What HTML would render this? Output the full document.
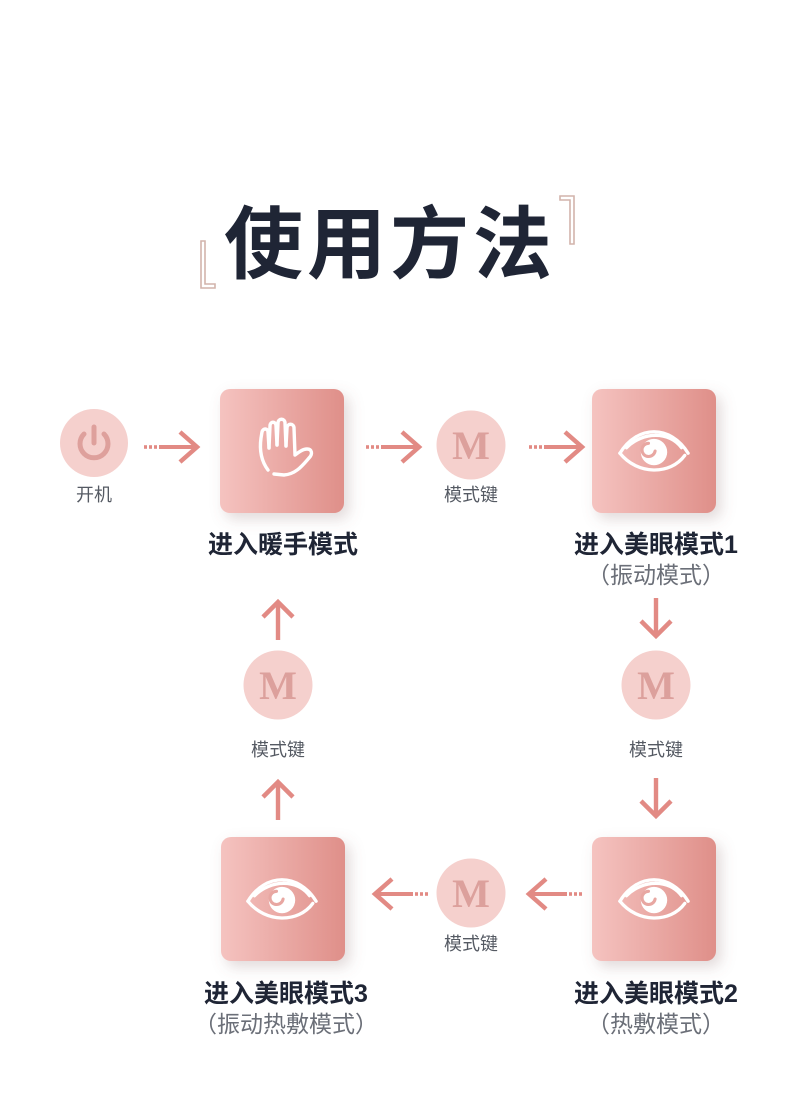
<!DOCTYPE html>
<html><head><meta charset="utf-8"><style>
html,body{margin:0;padding:0;background:#fff;}
svg text{font-family:"Liberation Sans","Noto Sans CJK SC",sans-serif;}
</style></head><body>
<svg width="790" height="1104" viewBox="0 0 790 1104" xmlns="http://www.w3.org/2000/svg">
<defs>
<linearGradient id="g" x1="0" y1="0" x2="1" y2="0">
<stop offset="0" stop-color="#f5c3c0"/><stop offset="1" stop-color="#df8f89"/>
</linearGradient>
<filter id="sh" x="-30%" y="-30%" width="170%" height="170%">
<feDropShadow dx="5" dy="6" stdDeviation="7" flood-color="#8a6a6a" flood-opacity="0.25"/>
</filter>
<g id="eye" fill="none" stroke="#fff" stroke-width="3" stroke-linecap="round" stroke-linejoin="round">
<path d="M-31,2 C-15,-24 15,-24 31,2"/>
<path d="M-25,-3 C-10,-18 14,-18 25,-3"/>
<path d="M-31,2 C-15,22 15,22 28,4"/>
<circle cx="0" cy="1" r="12" fill="#fff" stroke="none"/>
<path d="M-5,-7 a6,6 0 1 0 6,7" stroke="#e8a7a2" stroke-width="2.8"/>
</g>
<g id="M">
<circle r="34.5" fill="#f5d0cd"/>
<text y="14" text-anchor="middle" font-weight="bold" font-size="40" fill="#dca09c" style="font-family:'Liberation Serif',serif">M</text>
</g>
<g id="ar" fill="#e28a84">
<rect x="0" y="-1.8" width="3" height="3.6"/><rect x="5" y="-1.8" width="3" height="3.6"/><rect x="10" y="-1.8" width="3" height="3.6"/>
<rect x="15" y="-2" width="35" height="4"/>
<path d="M36,-15 L53,0 L36,15" fill="none" stroke="#e28a84" stroke-width="4.5"/>
</g>
<g id="va" fill="#e28a84">
<rect x="-2.2" y="-18" width="4.4" height="38"/>
<path d="M-15,-3 L0,-18 L15,-3" fill="none" stroke="#e28a84" stroke-width="4.5"/>
</g>
</defs>

<!-- title -->
<path d="M201,241 h4 v43 h10 v4 h-14 z" fill="none" stroke="#d2b4ac" stroke-width="1.6"/>
<path d="M560,196 h14 v48 h-4 v-44 h-10 z" fill="none" stroke="#d2b4ac" stroke-width="1.6"/>
<text x="390" y="272" text-anchor="middle" font-size="79" font-weight="bold" fill="#1f2535" letter-spacing="4">使用方法</text>

<!-- power -->
<circle cx="94" cy="443" r="34" fill="#f5d0cd"/>
<path d="M84,434 A14,14 0 1 0 104,434" fill="none" stroke="#dea09c" stroke-width="5" stroke-linecap="round"/>
<line x1="94" y1="427" x2="94" y2="443" stroke="#dea09c" stroke-width="5" stroke-linecap="round"/>
<text x="94" y="501" text-anchor="middle" font-size="18" fill="#555a63">开机</text>

<use href="#ar" x="144" y="447"/>
<use href="#ar" x="366" y="447"/>
<use href="#ar" x="529" y="447"/>
<use href="#ar" transform="translate(428,894) scale(-1,1)"/>
<use href="#ar" transform="translate(582,894) scale(-1,1)"/>

<!-- boxes -->
<rect x="220" y="389" width="124" height="124" rx="10" fill="url(#g)" filter="url(#sh)"/>
<rect x="592" y="389" width="124" height="124" rx="10" fill="url(#g)" filter="url(#sh)"/>
<rect x="221" y="837" width="124" height="124" rx="10" fill="url(#g)" filter="url(#sh)"/>
<rect x="592" y="837" width="124" height="124" rx="10" fill="url(#g)" filter="url(#sh)"/>

<!-- hand -->
<g fill="none" stroke="#fff" stroke-width="3.4" stroke-linecap="round" stroke-linejoin="round">
<path d="M268,470 C262,462 259,452 261,438 L262,432 C263,428 268,428 268,432 L269,448"/>
<path d="M269,448 L270,426 C270,421 276,421 276,426 L277,445"/>
<path d="M277,445 L278,423 C278,418 285,418 285,423 L286,446"/>
<path d="M286,446 L287,428 C287,423 294,423 294,428 L295,455 C299,452 303,449 307,449 C312,449 313,454 309,458 C302,466 296,474 284,475 L274,474"/>
</g>

<use href="#eye" transform="translate(654,451) scale(1.1)"/>
<use href="#eye" transform="translate(282,899) scale(1.1)"/>
<use href="#eye" transform="translate(654,899) scale(1.1)"/>

<use href="#M" x="471" y="445"/>
<use href="#M" x="278" y="685"/>
<use href="#M" x="656" y="685"/>
<use href="#M" x="471" y="893"/>

<text x="471" y="501" text-anchor="middle" font-size="18" fill="#555a63">模式键</text>
<text x="278" y="756" text-anchor="middle" font-size="18" fill="#555a63">模式键</text>
<text x="656" y="756" text-anchor="middle" font-size="18" fill="#555a63">模式键</text>
<text x="471" y="950" text-anchor="middle" font-size="18" fill="#555a63">模式键</text>

<use href="#va" x="278" y="620"/>
<use href="#va" x="278" y="800"/>
<use href="#va" transform="translate(656,618) scale(1,-1)"/>
<use href="#va" transform="translate(656,798) scale(1,-1)"/>

<g font-size="25" font-weight="bold" fill="#1f2535" text-anchor="middle">
<text x="283" y="553">进入暖手模式</text>
<text x="656" y="553">进入美眼模式1</text>
<text x="286" y="1002">进入美眼模式3</text>
<text x="656" y="1002">进入美眼模式2</text>
</g>
<g font-size="23" fill="#6b6f78" text-anchor="middle">
<text x="656" y="583">（振动模式）</text>
<text x="286" y="1032">（振动热敷模式）</text>
<text x="656" y="1032">（热敷模式）</text>
</g>
</svg>
</body></html>
